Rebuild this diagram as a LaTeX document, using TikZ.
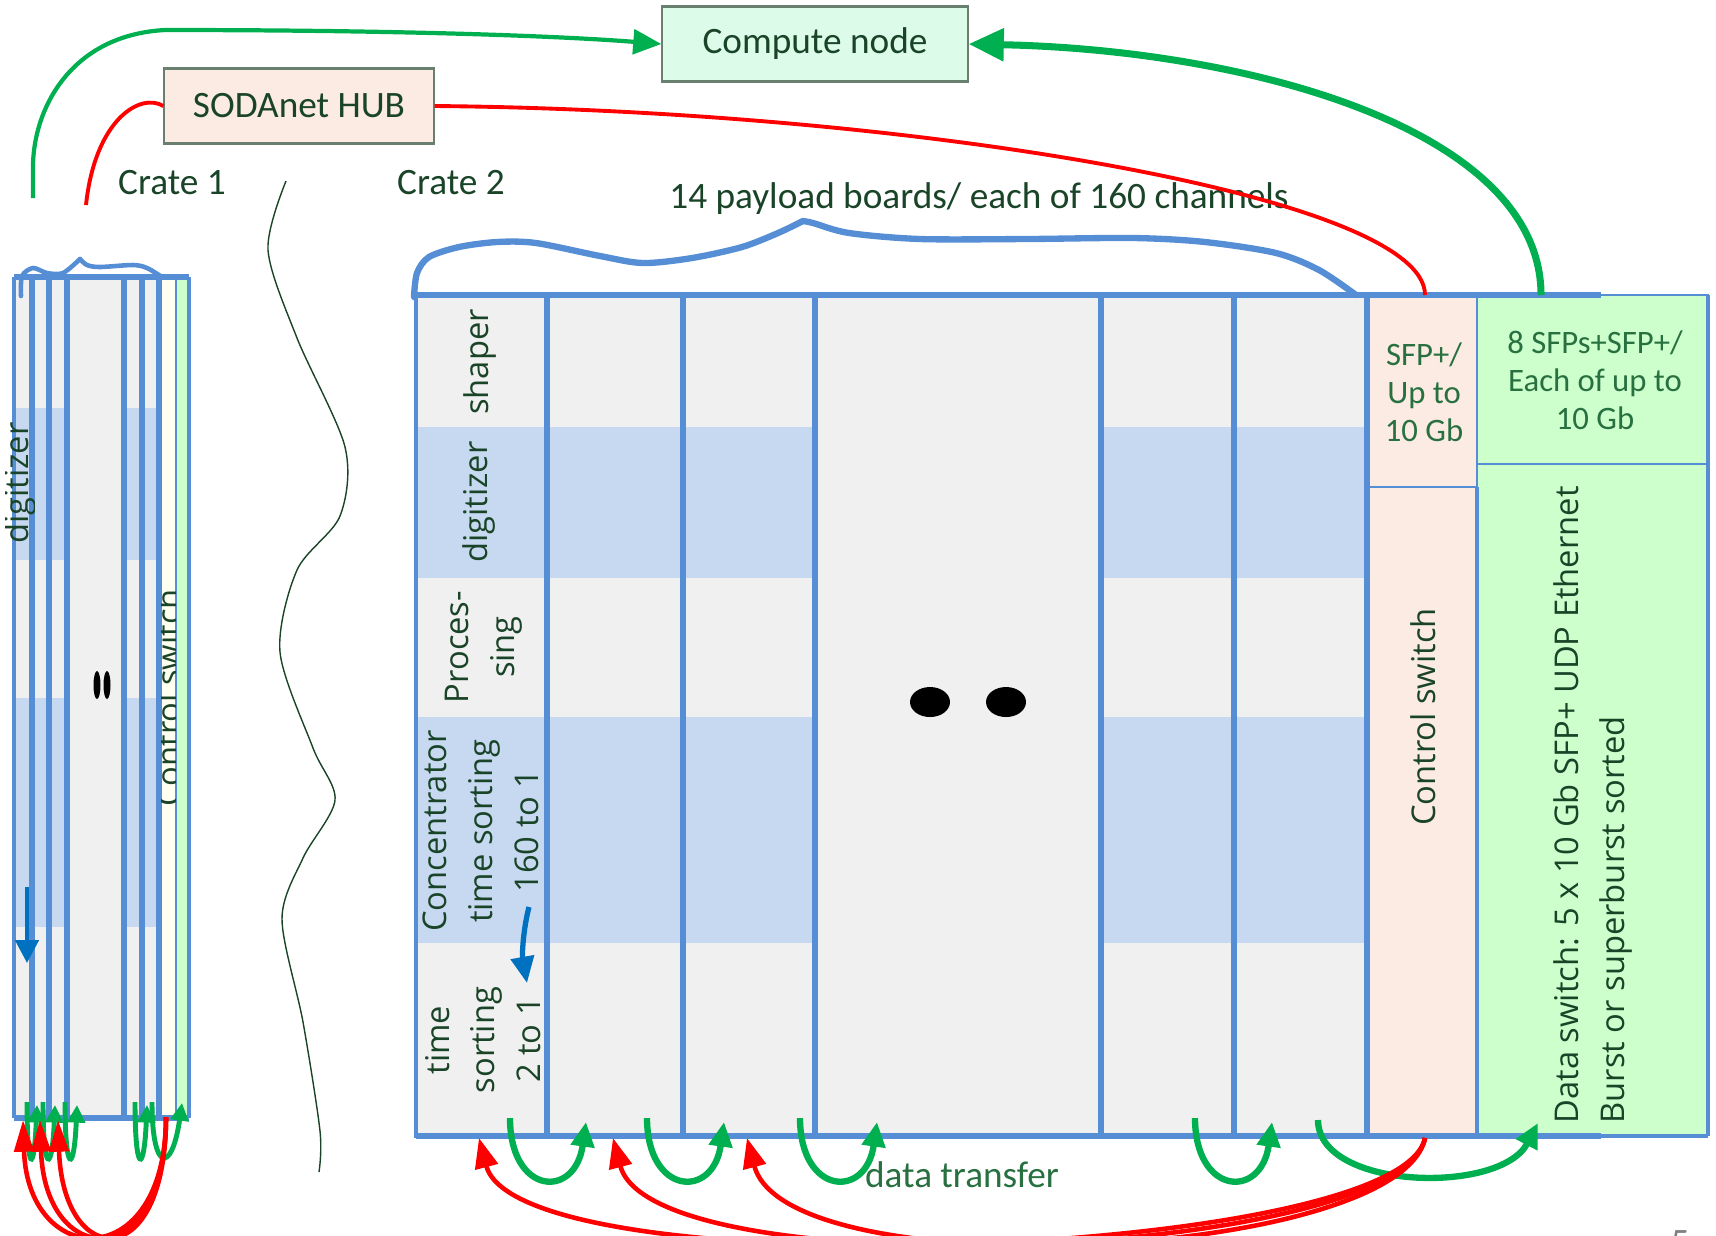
\documentclass[tikz,border=0pt]{standalone}
\usepackage{fontspec}
\setmainfont{Carlito}
\newfontfamily\slotfont{Open Sans}
\usetikzlibrary{arrows.meta}

\definecolor{bline}{RGB}{85,142,213}
\definecolor{band}{RGB}{198,217,241}
\definecolor{slot}{RGB}{240,240,240}
\definecolor{pinkbox}{RGB}{252,235,226}
\definecolor{greenbox}{RGB}{204,255,204}
\definecolor{mint}{RGB}{220,251,233}
\definecolor{cream}{RGB}{255,255,242}
\definecolor{dgreen}{RGB}{26,68,40}
\definecolor{mgreen}{RGB}{40,112,64}
\definecolor{lgreen}{RGB}{0,176,80}
\definecolor{rline}{RGB}{255,0,0}
\definecolor{darrow}{RGB}{0,112,192}
\definecolor{boxedge}{RGB}{105,128,112}

\begin{document}
\begin{tikzpicture}[x=0.01cm,y=-0.01cm,
  box/.style={draw=boxedge,line width=0.6pt,text=dgreen,inner sep=0pt,
    font=\fontsize{10.6}{12}\selectfont,minimum height=0.75cm},
  lbl/.style={text=dgreen,inner sep=0pt,font=\fontsize{10.6}{12}\selectfont},
  vlbl/.style={rotate=90,text=dgreen,align=center,inner sep=0pt,
    font=\slotfont\fontsize{9.3}{13}\selectfont},
  sfplbl/.style={text=mgreen,align=center,inner sep=0pt,
    font=\fontsize{9.3}{10.8}\selectfont},
  wall/.style={draw=bline,line width=1.8pt},
  thinwall/.style={draw=bline,line width=0.6pt},
  brace/.style={draw=bline,line width=1.8pt,line cap=round},
  uarr/.style={draw=lgreen,line width=1.8pt,-{Triangle[length=7pt,width=6.5pt]}},
  suarr/.style={draw=lgreen,line width=1.4pt,-{Triangle[length=5pt,width=5pt]}},
  rarr/.style={draw=rline,line width=1.3pt,-{Triangle[length=8.5pt,width=6.5pt]}},
  ]
\useasboundingbox (0,0) rectangle (1716,1235);
\clip (0,0) rectangle (1716,1235);

\node[box,fill=mint,minimum width=3.05cm] (cn) at (815,44) {Compute node};
\node[box,fill=pinkbox,minimum width=2.69cm] (hub) at (299,106) {SODAnet HUB};
\node[lbl] (cr1) at (172,183) {Crate 1};
\node[lbl] (cr2) at (451,183) {Crate 2};
\node[lbl] (pay) at (979,199) {14 payload boards/ each of 160 channels};

\draw[dgreen,line width=0.4pt] plot[smooth] coordinates {(286,181) (268,250) (297,338)
  (345,447) (340,516) (297,570) (280,652) (313,748) (335,800) (303,858) (282,919)
  (303,1022) (320,1131) (319,1172)};

% crate 1
\fill[slot] (14,277) rectangle (159,1118);
\foreach \a/\b in {14/67,124/159}
  \foreach \u/\v in {408/560,698/927}
    \fill[band] (\a,\u) rectangle (\b,\v);
\fill[cream] (159,277) rectangle (176,1118);
\fill[greenbox] (176,277) rectangle (189,1118);
\foreach \x in {32,49,67,124,142,159}
  \draw[wall] (\x,277) -- (\x,1118);
\draw[wall,line width=1.3pt] (14,277) -- (14,1118);
\draw[thinwall] (176,277) -- (176,1118);
\draw[wall,line width=1.3pt] (189,277) -- (189,1118);
\draw[wall] (14,277) -- (189,277);
\draw[wall] (14,1118) -- (189,1118);
\begin{scope}
  \clip (5,277) rectangle (34,1118);
  \node[vlbl,anchor=base] (dg1) at (28,483) {digitizer};
\end{scope}
\begin{scope}
  \clip (161,277) rectangle (175,1118);
  \node[vlbl,anchor=base] (cs1) at (180,698) {Control switch};
\end{scope}
\fill (97,685) ellipse [x radius=3.5,y radius=14];
\fill (107,685) ellipse [x radius=3.5,y radius=14];
\draw[brace,line width=1.3pt] plot[smooth] coordinates {(21,296) (22,276) (33,268)
  (47,273) (63,273) (80,259)};
\draw[brace,line width=1.3pt] plot[smooth] coordinates {(80,259) (87,265) (100,267)
  (133,265) (147,268) (162,277)};
\coordinate (a1s) at (27,887);
\coordinate (a1e) at (27,963);
\draw[darrow,line width=1.3pt,-{Triangle[length=6.5pt,width=6.5pt]}] (a1s) -- (a1e);

% crate 2
\fill[slot] (416,295) rectangle (1369,1136);
\foreach \a/\b in {416/815,1101/1369}
  \foreach \u/\v in {427/578,717/943}
    \fill[band] (\a,\u) rectangle (\b,\v);
\fill[pinkbox] (1369,295) rectangle (1477,1136);
\fill[greenbox] (1477,295) rectangle (1708,1136);
\foreach \a/\b in {547/683,683/815,1101/1234,1234/1367}
  \draw[wall] (\a,295) rectangle (\b,1136);
\draw[wall,line width=1.2pt] (416,295) rectangle (547,1136);
\draw[thinwall] (1369,295) rectangle (1477,487);
\draw[thinwall] (1477,295) rectangle (1708,464);
\draw[wall,line width=1.2pt] (1477,487) -- (1477,1136);
\draw[wall,line width=1.2pt] (1708,295) -- (1708,1136);
\draw[wall] (416,295) -- (1601,295);
\draw[wall] (416,1136) -- (1601,1136);
\draw[wall,line width=1.2pt] (1601,1136) -- (1708,1136);
\fill (930,702) ellipse [x radius=20,y radius=15];
\fill (1006,702) ellipse [x radius=20,y radius=15];

\node[vlbl] (shp) at (480,362) {shaper};
\node[vlbl] (dig) at (479,502) {digitizer};
\node[vlbl] (proc) at (484,647) {Proces-\\sing};
\node[vlbl] (conc) at (481,831) {Concentrator\\time sorting\\160 to 1};
\node[vlbl] (tsort) at (483,1040) {time\\sorting\\2 to 1};
\node[vlbl] (csw) at (1423,717) {Control switch};
\node[vlbl,align=left,anchor=west] (dsw) at (1593,1124)
  {Data switch: 5 x 10 Gb SFP+ UDP Ethernet\\Burst or superburst sorted};
\node[sfplbl] (sfp) at (1424,392) {SFP+/\\Up to\\10 Gb};
\node[sfplbl] (sfps) at (1595,380) {8 SFPs+SFP+/\\Each of up to\\10 Gb};

\coordinate (b2s) at (529,907);
\coordinate (b2e) at (527,983);
\draw[darrow,line width=1.5pt,-{Triangle[length=7.5pt,width=6.5pt]}]
  (b2s) .. controls (523,930) and (522,955) .. (b2e);

\draw[brace] plot[smooth] coordinates {(414,297) (417,273) (429,257) (459,247)
  (497,242) (536,243) (600,256) (643,263) (692,258) (742,247) (778,233) (803,221)};
\draw[brace] plot[smooth] coordinates {(803,221) (813,223) (849,233) (920,239)
  (1027,239) (1134,238) (1205,242) (1276,253) (1319,270) (1356,295)};

% links to the top boxes
\coordinate (g1) at (33,198);
\draw[lgreen,line width=1.2pt,-{Triangle[length=8pt,width=7pt]}] (g1) -- (33,167)
  .. controls (33,110) and (70,35) .. (165,30)
  .. controls (400,30) and (560,36) .. (cn.west);
\coordinate (r1) at (86,205);
\draw[rline,line width=1.1pt] (hub.west) .. controls (140,92) and (95,120) .. (r1);
\coordinate (ctop) at (1425,295);
\draw[rline,line width=1.1pt] (hub.east) .. controls (900,110) and (1425,195) .. (ctop);
\coordinate (dtop) at (1541,295);
\draw[lgreen,line width=2pt,-{Triangle[length=10pt,width=9pt]}]
  (dtop) .. controls (1541,130) and (1250,50) .. (cn.east);

% data transfer
\foreach \s/\e [count=\i] in {510/586,647/724,800/877,1195/1272}{
  \coordinate (us\i) at (\s,1118);
  \coordinate (ue\i) at (\e,1122);
  \draw[uarr] (us\i) .. controls +(0,77) and +(-11,78) .. (ue\i);
}
\coordinate (us5) at (1318,1120);
\coordinate (ue5) at (1538,1123);
\draw[uarr] (us5) .. controls +(0,70) and +(-38,72) .. (ue5);
\node[lbl,text=mgreen] (dt) at (962,1175) {data transfer};

\coordinate (cbot) at (1425,1138);
\foreach \t [count=\i] in {479,613,747}{
  \coordinate (rt\i) at (\t,1138);
  \draw[rarr] (cbot) .. controls (1400,1260) and (\t+40,1290) .. (rt\i);
}

\foreach \s/\e [count=\i] in {27/37,43/55,65/77,135/147}{
  \coordinate (vs\i) at (\s,1102);
  \coordinate (ve\i) at (\e,1105);
  \draw[suarr] (vs\i) .. controls +(0,72) and +(-3,70) .. (ve\i);
}
\coordinate (vs5) at (152,1102);
\coordinate (ve5) at (182,1103);
\draw[suarr] (vs5) .. controls +(0,72) and +(-10,70) .. (ve5);

\coordinate (c1bot) at (166,1117);
\foreach \t [count=\i] in {23,40,58}{
  \coordinate (rs\i) at (\t,1120);
  \draw[rarr,-{Triangle[length=9pt,width=5.5pt]}] (c1bot) .. controls (166,1275) and (\t+5,1270) .. (rs\i);
}

\node[lbl,text=gray,anchor=north] (pg) at (1680,1230) {5};
\end{tikzpicture}
\end{document}
